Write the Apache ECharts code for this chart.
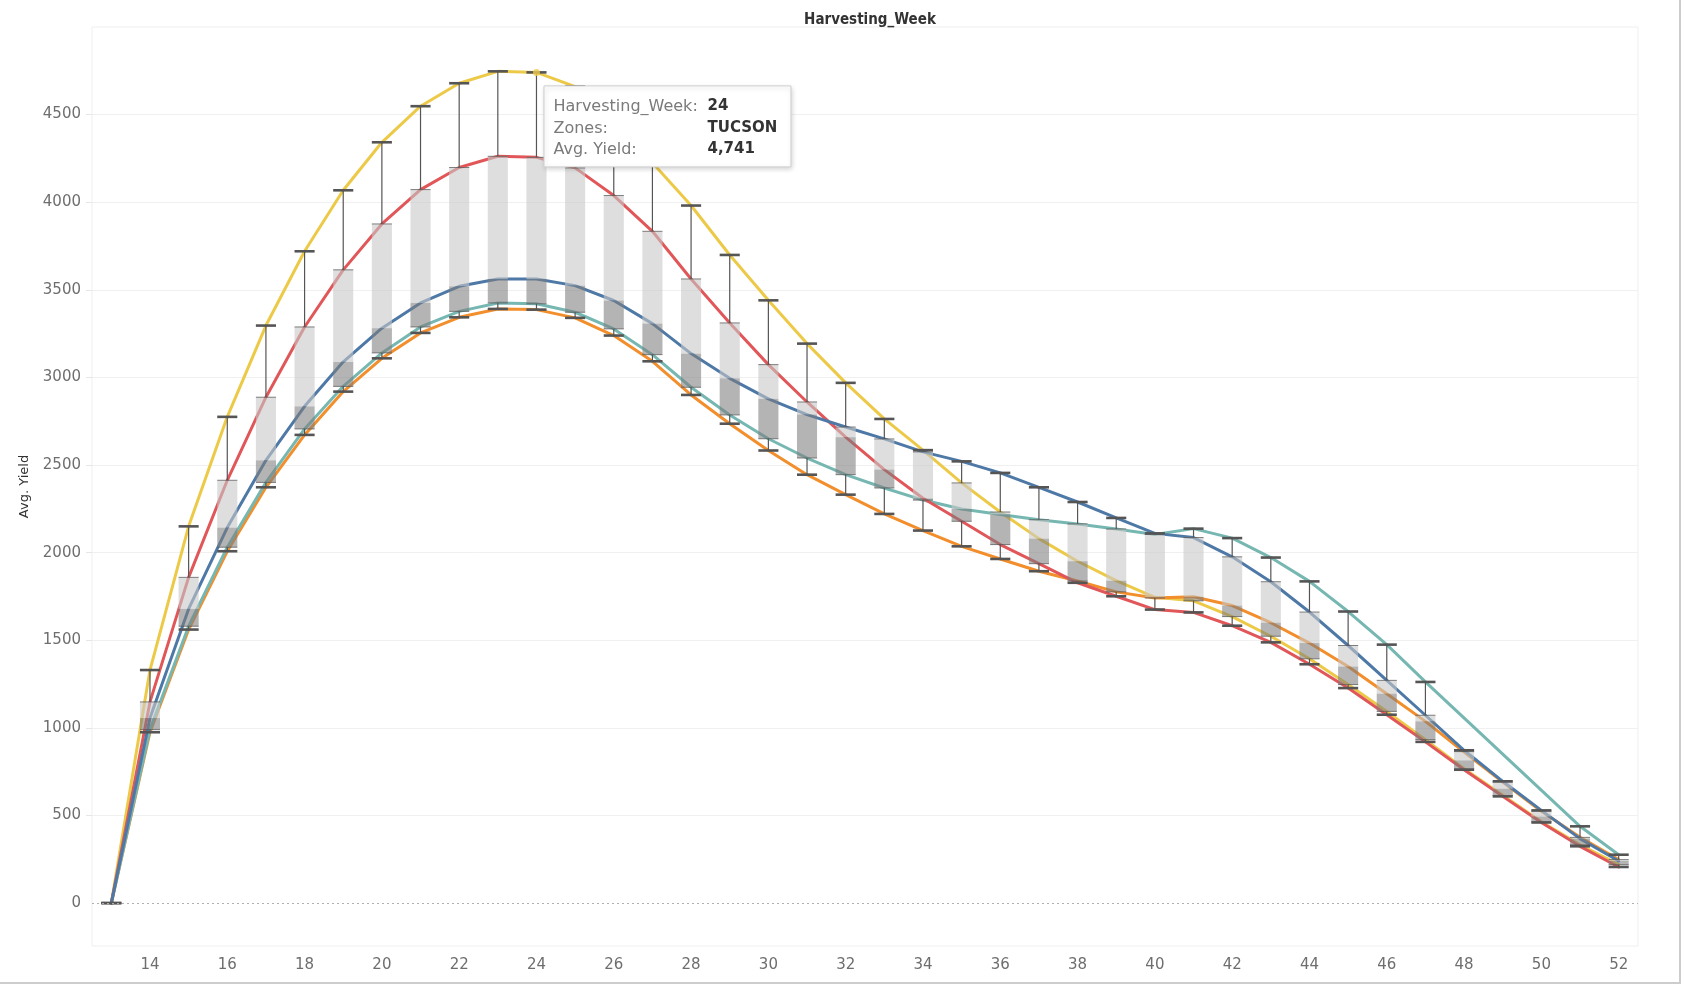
<!DOCTYPE html>
<html><head><meta charset="utf-8">
<script src="https://cdn.jsdelivr.net/npm/echarts@6/dist/echarts.min.js"></script>
<style>html,body{margin:0;padding:0;background:#fff}#c{width:1681px;height:984px}</style>
</head><body><div id="c"></div>
<script>
// ---- data ----
const weeks = [13,14,15,16,17,18,19,20,21,22,23,24,25,26,27,28,29,30,31,32,33,34,35,36,37,38,39,40,41,42,43,44,45,46,47,48,49,50,51,52];
const xTickLabels = [14,16,18,20,22,24,26,28,30,32,34,36,38,40,42,44,46,48,50,52];
const yTickLabels = [0,500,1000,1500,2000,2500,3000,3500,4000,4500];
const zoneNames = ['TUCSON','Zone 2','Zone 3','Zone 4','Zone 5'];
const tucson = [0,1330,2150,2775,3296,3720,4068,4342,4548,4679,4747,4741,4660,4460,4225,3981,3699,3440,3193,2969,2763,2585,2398,2232,2080,1951,1840,1745,1725,1635,1523,1394,1247,1094,933,767,615,464,333,219];
const zoneRed = [0,1148,1859,2413,2887,3288,3614,3876,4072,4198,4262,4256,4196,4038,3834,3562,3311,3073,2860,2659,2474,2310,2179,2046,1937,1828,1751,1675,1659,1583,1488,1363,1227,1075,920,761,609,460,324,206];
const zoneBlue = [0,1056,1679,2143,2527,2835,3089,3281,3425,3520,3562,3562,3524,3439,3307,3136,2995,2878,2788,2717,2649,2575,2521,2455,2373,2289,2198,2110,2086,1976,1834,1661,1470,1271,1072,872,695,529,368,240];
const zoneTeal = [0,990,1580,2031,2401,2706,2949,3140,3288,3377,3425,3420,3372,3277,3130,2944,2786,2650,2540,2445,2369,2300,2249,2218,2188,2164,2135,2104,2137,2083,1972,1836,1664,1475,1262,null,null,null,438,276];
const zoneOrange = [0,975,1561,2008,2373,2672,2919,3109,3254,3343,3391,3387,3340,3239,3092,2900,2736,2583,2445,2331,2221,2126,2036,1964,1894,1838,1776,1741,1748,1698,1600,1484,1350,1195,1037,862,690,524,375,248];
const hoverWeek = 24;

// ---- styling ----
const FONT = '"DejaVu Sans", "Noto Sans", sans-serif';
const colors = {tucson:'#edc948', red:'#e15759', blue:'#4e79a7', teal:'#76b7b2', orange:'#f28e2b'};

// box-plot statistics computed from the zone values (linear-interpolated quartiles)
function quant(sorted, p){
  const pos = (sorted.length - 1) * p, lo = Math.floor(pos), f = pos - lo;
  return lo + 1 < sorted.length ? sorted[lo] + f * (sorted[lo+1] - sorted[lo]) : sorted[lo];
}
const allZones = [tucson, zoneRed, zoneBlue, zoneTeal, zoneOrange];
const boxData = weeks.map((w, i) => {
  const v = allZones.map(a => a[i]).filter(x => x != null).sort((a,b)=>a-b);
  return [w, v[0], quant(v,0.25), quant(v,0.5), quant(v,0.75), v[v.length-1]];
});
const pairs = arr => weeks.map((w,i) => [w, arr[i]]);

function lineSeries(name, arr, color, z){
  return {type:'line', name, data:pairs(arr), showSymbol:false, smooth:false, connectNulls:true,
    lineStyle:{color, width:3, cap:'round', join:'round'}, itemStyle:{color}, z, silent:true};
}

const chart = echarts.init(document.getElementById('c'), null, {renderer:'canvas'});
const option = {
  animation:false,
  backgroundColor:'#ffffff',
  title:{text:'Harvesting_Week', left:865, top:8, textAlign:'center',
    textStyle:{fontFamily:'"DejaVu Sans Condensed", "DejaVu Sans", sans-serif', fontSize:15, fontWeight:'bold', color:'#333'}},
  grid:{left:92, right:43, top:27, bottom:38, show:true, borderColor:'#efefef', borderWidth:1, backgroundColor:'transparent'},
  xAxis:{type:'value', min:12.5, max:52.5,
    axisLine:{show:false}, axisTick:{show:false}, splitLine:{show:false},
    axisLabel:{customValues:xTickLabels, margin:12, fontFamily:FONT, fontSize:15, color:'#6e6e6e'}},
  yAxis:{type:'value', min:-245, max:5000, name:'Avg. Yield', nameLocation:'middle', nameGap:61, nameRotate:90,
    nameTextStyle:{fontFamily:FONT, fontSize:13, color:'#333'},
    axisLine:{show:false},
    axisTick:{show:true, length:6, customValues:yTickLabels.filter(v=>v>0), lineStyle:{color:'#e6e6e6'}},
    splitLine:{show:true, lineStyle:{color:'#f0f0f0', width:1}},
    axisLabel:{customValues:yTickLabels, formatter:v => String(v), margin:11, fontFamily:FONT, fontSize:15, color:'#6e6e6e'}},
  series:[
    Object.assign(lineSeries(zoneNames[0], tucson, colors.tucson, 2), {
      markLine:{silent:true, symbol:['none','none'], label:{show:false},
        lineStyle:{type:[2,3], color:'#b0b0b0', width:1}, data:[{yAxis:0}]}}),
    lineSeries(zoneNames[4], zoneOrange, colors.orange, 2),
    lineSeries(zoneNames[3], zoneTeal, colors.teal, 2),
    lineSeries(zoneNames[1], zoneRed, colors.red, 2),
    lineSeries(zoneNames[2], zoneBlue, colors.blue, 2),
    {type:'custom', name:'box', data:boxData, z:4, silent:true,
      encode:{x:0, y:[1,2,3,4,5]},
      renderItem:function(params, api){
        const w = api.value(0);
        const x = api.coord([w, 0])[0];
        const bw = api.size([1, 0])[0] * 0.52;
        const y = k => api.coord([w, api.value(k)])[1];
        const yMin=y(1), yQ1=y(2), yMed=y(3), yQ3=y(4), yMax=y(5);
        const l = x - bw/2, r = x + bw/2;
        const edge = {stroke:'rgba(85,85,85,0.75)', lineWidth:1};
        const whisk = {stroke:'#555', lineWidth:1.2};
        const cap = {stroke:'#555', lineWidth:2.6};
        return {type:'group', children:[
          {type:'rect', shape:{x:l, y:yQ3, width:bw, height:yMed-yQ3}, style:{fill:'rgba(200,200,200,0.6)'}},
          {type:'rect', shape:{x:l, y:yMed, width:bw, height:yQ1-yMed}, style:{fill:'rgba(125,125,125,0.58)'}},
          {type:'line', shape:{x1:l, y1:yQ3, x2:r, y2:yQ3}, style:edge},
          {type:'line', shape:{x1:l, y1:yQ1, x2:r, y2:yQ1}, style:edge},
          {type:'line', shape:{x1:x, y1:yQ3, x2:x, y2:yMax}, style:whisk},
          {type:'line', shape:{x1:x, y1:yQ1, x2:x, y2:yMin}, style:whisk},
          {type:'line', shape:{x1:l, y1:yMax, x2:r, y2:yMax}, style:cap},
          {type:'line', shape:{x1:l, y1:yMin, x2:r, y2:yMin}, style:cap}
        ]};
      }},
    {type:'scatter', name:'hover', z:6, silent:true, symbol:'circle', symbolSize:7,
      itemStyle:{color:colors.tucson},
      data:[[hoverWeek, tucson[weeks.indexOf(hoverWeek)]]]}
  ]
};
chart.setOption(option);

// tooltip for the hovered point (TUCSON, week 24)
const hv = tucson[weeks.indexOf(hoverWeek)];
const pt = chart.convertToPixel({gridIndex:0}, [hoverWeek, hv]);
const tx = pt[0] + 7, ty = pt[1] + 13;
const lab = {fontFamily:FONT, fontSize:16, fill:'#7a7a7a', textVerticalAlign:'middle'};
const val = {fontFamily:FONT, fontSize:15, fill:'#333', fontWeight:'bold', textVerticalAlign:'middle'};
const TZ = 1000;
chart.setOption({graphic:{elements:[
  {type:'rect', left:tx, top:ty, z:TZ, zlevel:1, shape:{x:0, y:0, width:247, height:81},
    style:{fill:'#fff', stroke:'#cfcfcf', lineWidth:1, shadowBlur:5, shadowOffsetX:1, shadowOffsetY:2, shadowColor:'rgba(0,0,0,0.18)'}},
  {type:'text', x:tx+10, y:ty+21, z:TZ+1, zlevel:1, style:Object.assign({text:'Harvesting_Week:'}, lab)},
  {type:'text', x:tx+164, y:ty+21, z:TZ+1, zlevel:1, style:Object.assign({text:String(hoverWeek)}, val)},
  {type:'text', x:tx+10, y:ty+43, z:TZ+1, zlevel:1, style:Object.assign({text:'Zones:'}, lab)},
  {type:'text', x:tx+164, y:ty+43, z:TZ+1, zlevel:1, style:Object.assign({text:zoneNames[0]}, val)},
  {type:'text', x:tx+10, y:ty+64, z:TZ+1, zlevel:1, style:Object.assign({text:'Avg. Yield:'}, lab)},
  {type:'text', x:tx+164, y:ty+64, z:TZ+1, zlevel:1, style:Object.assign({text:hv.toLocaleString('en-US')}, val)},
  {type:'rect', left:1679, top:0, z:TZ, zlevel:1, shape:{x:0, y:0, width:2, height:984}, style:{fill:'#cdcdcd'}},
  {type:'rect', left:0, top:982, z:TZ, zlevel:1, shape:{x:0, y:0, width:1681, height:2}, style:{fill:'#cdcdcd'}}
]}});
</script>
</body></html>
